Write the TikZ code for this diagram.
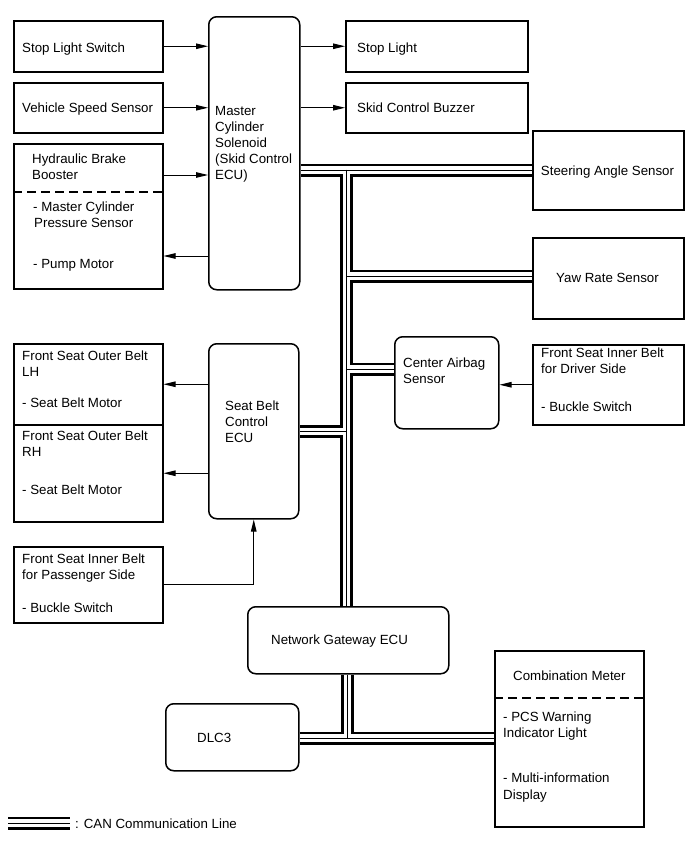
\documentclass[tikz,border=0pt]{standalone}
\usepackage{fontspec}
\setmainfont{Liberation Sans}
\usetikzlibrary{arrows.meta,calc}
\pgfdeclarelayer{bg}
\pgfsetlayers{bg,main}
\begin{document}
\begin{tikzpicture}[x=1pt,y=-1pt,
  font=\fontsize{13.3}{16}\selectfont,
  box/.style={draw,line width=1.5pt,rectangle,inner sep=0pt,anchor=north west},
  rbox/.style={box,rounded corners=8pt},
  txt/.style={anchor=base west,inner sep=0pt},
  txtc/.style={anchor=base,inner sep=0pt},
  arr/.style={line width=1pt,-{Triangle[length=12pt,width=5.5pt]}},
  dsh/.style={line width=1.5pt,dash pattern=on 9pt off 5pt},
  canA/.style={line width=13pt,black},
  canB/.style={line width=7.8pt,white},
  canC/.style={line width=0.9pt,black}]
\useasboundingbox (0,0) rectangle (690,855);

% ---- left column
\node[box,minimum width=149pt,minimum height=51pt] (sls) at (13,20) {};
\node[txt] (tsls) at (22,52) {Stop Light Switch};
\node[box,minimum width=149pt,minimum height=50pt] (vss) at (13,82) {};
\node[txt] (tvss) at (22,112) {Vehicle Speed Sensor};
\node[box,minimum width=149pt,minimum height=145pt] (hbb) at (13,143) {};
\node[txt] (thbb1) at (32,163) {Hydraulic Brake};
\node[txt] (thbb2) at (32,179) {Booster};
\node[txt] (thbb3) at (33,211) {- Master Cylinder};
\node[txt] (thbb4) at (34,227) {Pressure Sensor};
\node[txt] (thbb5) at (33,268) {- Pump Motor};
\draw[dsh] (hbb.west |- 0,192) coordinate (hd1) -- (hd1 -| hbb.east);

\node[box,minimum width=149pt,minimum height=81pt] (lh) at (13,343) {};
\node[txt] (tlh1) at (22,360) {Front Seat Outer Belt};
\node[txt] (tlh2) at (22,376) {LH};
\node[txt] (tlh3) at (22,407) {- Seat Belt Motor};
\node[box,minimum width=149pt,minimum height=97pt] (rh) at (13,424) {};
\node[txt] (trh1) at (22,440) {Front Seat Outer Belt};
\node[txt] (trh2) at (22,456) {RH};
\node[txt] (trh3) at (22,494) {- Seat Belt Motor};

\node[box,minimum width=149pt,minimum height=76pt] (pas) at (13,546) {};
\node[txt] (tpas1) at (22,563) {Front Seat Inner Belt};
\node[txt] (tpas2) at (22,579) {for Passenger Side};
\node[txt] (tpas3) at (22,612) {- Buckle Switch};

% ---- middle column
\node[rbox,minimum width=91pt,minimum height=273pt] (mc) at (208,16) {};
\node[txt] (tmc1) at (215,115) {Master};
\node[txt] (tmc2) at (215,131) {Cylinder};
\node[txt] (tmc3) at (215,147) {Solenoid};
\node[txt] (tmc4) at (215,163) {(Skid Control};
\node[txt] (tmc5) at (215,179) {ECU)};

\node[rbox,minimum width=90pt,minimum height=175pt] (sbe) at (208,343) {};
\node[txt] (tsbe1) at (225,410) {Seat Belt};
\node[txt] (tsbe2) at (225,426) {Control};
\node[txt] (tsbe3) at (225,442) {ECU};

\node[rbox,minimum width=104pt,minimum height=92pt] (cas) at (394,336) {};
\node[txt] (tcas1) at (403,367) {Center Airbag};
\node[txt] (tcas2) at (403,383) {Sensor};

\node[rbox,minimum width=201pt,minimum height=67pt] (ngw) at (247,606) {};
\node[txt] (tngw) at (271,644) {Network Gateway ECU};

\node[rbox,minimum width=133pt,minimum height=67pt] (dlc) at (165,703) {};
\node[txt] (tdlc) at (197,742) {DLC3};

% ---- right column
\node[box,minimum width=182pt,minimum height=51pt] (sl) at (345,20) {};
\node[txt] (tsl) at (357,52) {Stop Light};
\node[box,minimum width=182pt,minimum height=50pt] (scb) at (345,82) {};
\node[txt] (tscb) at (357,112) {Skid Control Buzzer};

\node[box,minimum width=151pt,minimum height=79pt] (sas) at (532,130) {};
\node[txtc] (tsas) at (607.5,175) {Steering Angle Sensor};
\node[box,minimum width=151pt,minimum height=81pt] (yrs) at (532,237) {};
\node[txtc] (tyrs) at (607.5,282) {Yaw Rate Sensor};
\node[box,minimum width=151pt,minimum height=80pt] (dr) at (532,344) {};
\node[txt] (tdr1) at (541,357) {Front Seat Inner Belt};
\node[txt] (tdr2) at (541,373) {for Driver Side};
\node[txt] (tdr3) at (541,411) {- Buckle Switch};

\node[box,minimum width=149pt,minimum height=176pt] (cm) at (494,650) {};
\node[txt] (tcm1) at (513,680) {Combination Meter};
\draw[dsh] (cm.west |- 0,698) coordinate (cd1) -- (cd1 -| cm.east);
\node[txt] (tcm2) at (503,721) {- PCS Warning};
\node[txt] (tcm3) at (503,737) {Indicator Light};
\node[txt] (tcm4) at (503,782) {- Multi-information};
\node[txt] (tcm5) at (503,799) {Display};

% ---- legend
\coordinate (l1) at (8,823);
\coordinate (l2) at (70,823);
\node[txt] (tleg) at (75,828) {: CAN Communication Line};

% ---- arrows
\draw[arr] (sls.east) -- (sls.east -| mc.west);
\draw[arr] (vss.east) -- (vss.east -| mc.west);
\coordinate (h1) at ($(hbb.north east)+(0,32)$);
\coordinate (h2) at ($(hbb.north east)+(0,113)$);
\draw[arr] (h1) -- (h1 -| mc.west);
\draw[arr] (h2 -| mc.west) -- (h2);
\draw[arr] (mc.east |- sl.west) -- (sl.west);
\draw[arr] (mc.east |- scb.west) -- (scb.west);
\draw[arr] (lh.east -| sbe.west) -- (lh.east);
\draw[arr] (rh.east -| sbe.west) -- (rh.east);
\draw[arr] (pas.east) -- (pas.east -| sbe.south) -- (sbe.south);
\draw[arr] (dr.west) -- (dr.west -| cas.east);

% ---- CAN buses
\coordinate (j1) at (346.5,169.5);
\coordinate (j2) at (346.5,276);
\coordinate (j3) at (346.5,369);
\coordinate (j4) at (346.5,431.5);
\coordinate (j5) at (347.5,738);
\newcommand\canpaths[1]{%
  \draw[#1] (mc.east |- sas.west) -- (sas.west);
  \draw[#1] (j1) -- (j1 |- ngw.north);
  \draw[#1] (j2) -- (j2 -| yrs.west);
  \draw[#1] (j3) -- (j3 -| cas.west);
  \draw[#1] (j4) -- (j4 -| sbe.east);
  \draw[#1] (j5 |- ngw.south) -- (j5);
  \draw[#1] (j5 -| dlc.east) -- (j5 -| cm.west);
  \draw[#1] (l1) -- (l2);}
\begin{pgfonlayer}{bg}
\canpaths{canA}
\canpaths{canB}
\canpaths{canC}
\end{pgfonlayer}
\end{tikzpicture}
\end{document}
